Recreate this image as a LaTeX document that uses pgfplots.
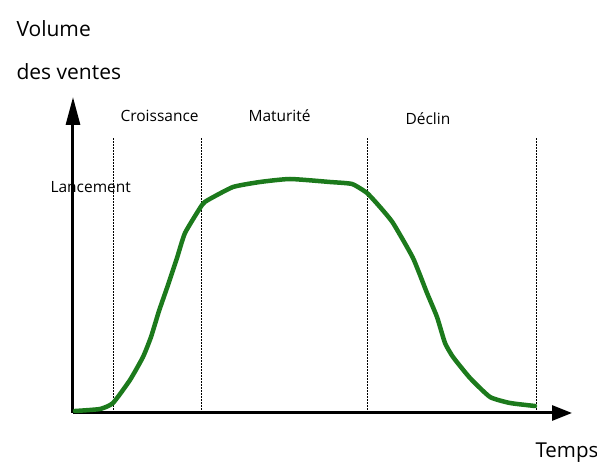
\documentclass[border=0pt]{standalone}
\usepackage{pgfplots}
\pgfplotsset{compat=1.18}
\usepackage{fontspec}
\setmainfont{Open Sans}
\usetikzlibrary{arrows.meta}
\definecolor{curvegreen}{RGB}{28,122,28}
\begin{document}
\begin{tikzpicture}
\path[use as bounding box] (-73pt,-55pt) rectangle (524pt,413pt);
\begin{axis}[
  anchor=south west, at={(0pt,0pt)},
  x=1pt, y=1pt,
  xmin=0, xmax=499, ymin=0, ymax=316,
  axis lines=left,
  axis line style={line width=3pt, black},
  x axis line style={-{Triangle[length=20pt,width=15pt]}},
  y axis line style={-{Triangle[length=28pt,width=14pt]}},
  xtick=\empty, ytick=\empty,
  clip=false,
]
% dotted phase separators
\addplot[black, line width=0.7pt, dash pattern=on 1.5pt off 1.5pt] coordinates {(40,0) (40,275)};
\addplot[black, line width=0.7pt, dash pattern=on 1.5pt off 1.5pt] coordinates {(128,0) (128,275)};
\addplot[black, line width=0.7pt, dash pattern=on 1.5pt off 1.5pt] coordinates {(294,0) (294,275)};
\addplot[black, line width=0.7pt, dash pattern=on 1.5pt off 1.5pt] coordinates {(463,0) (463,275)};
% product life cycle curve
\addplot[curvegreen, line width=4.5pt, line join=round, line cap=round, smooth, tension=0.3] coordinates {
(2,2) (27,4) (40,10) (57,33) (70,56) (78,76) (86,102) (95,128) (104,155) (112,180)
(129,208) (135,213) (160,226) (187,231) (217,234) (257,231) (279,229) (294,220)
(307,206) (320,190) (340,155) (354,120) (364,96) (372,70) (380,56) (397,35)
(417,16) (437,10) (462,7)
};
\node[anchor=base west, font=\fontsize{21}{24}\selectfont] at (axis cs:-60,376) {Volume};
\node[anchor=base west, font=\fontsize{21}{24}\selectfont] at (axis cs:-60,333) {des ventes};
\node[anchor=base west, font=\fontsize{15.5}{18}\selectfont] at (axis cs:44,291) {Croissance};
\node[anchor=base west, font=\fontsize{15.5}{18}\selectfont] at (axis cs:172,291) {Maturité};
\node[anchor=base west, font=\fontsize{15.5}{18}\selectfont] at (axis cs:329,288) {Déclin};
\node[anchor=base west, font=\fontsize{15.5}{18}\selectfont] at (axis cs:-26,220) {Lancement};
\node[anchor=base west, font=\fontsize{20.5}{24}\selectfont] at (axis cs:459,-45) {Temps};
\end{axis}
\end{tikzpicture}
\end{document}
